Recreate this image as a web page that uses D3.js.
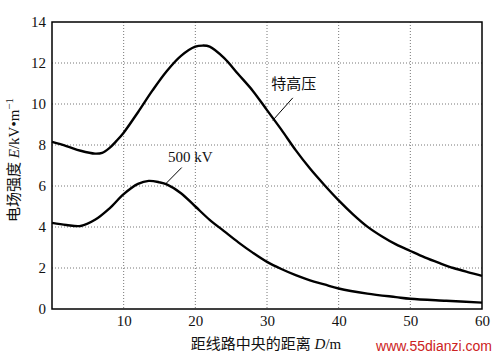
<!DOCTYPE html>
<html>
<head>
<meta charset="utf-8">
<script src="https://cdn.jsdelivr.net/npm/d3@7"></script>
<style>
  body { margin: 0; background: #fff; }
</style>
</head>
<body>
<div class="chart"></div>
<script>
// distance from line centre (m) and field strength (kV/m)
var uhvX = [0, 2, 4, 6, 7, 8, 9, 10, 12, 14, 16, 18, 20, 21, 22, 24, 26, 28, 30, 32, 34, 36, 38, 40, 42, 44, 46, 48, 50, 52, 54, 56, 58, 60];
var uhvE = [8.15, 7.95, 7.72, 7.58, 7.62, 7.85, 8.2, 8.6, 9.6, 10.65, 11.6, 12.35, 12.8, 12.85, 12.8, 12.25, 11.45, 10.65, 9.7, 8.75, 7.75, 6.85, 6.05, 5.3, 4.62, 4.02, 3.55, 3.15, 2.83, 2.52, 2.25, 2.0, 1.8, 1.62];

var kv500X = [0, 2, 4, 6, 8, 10, 12, 13.5, 15, 16, 18, 20, 22, 24, 26, 28, 30, 32, 34, 36, 38, 40, 44, 48, 50, 55, 60];
var kv500E = [4.2, 4.1, 4.05, 4.35, 4.9, 5.6, 6.1, 6.25, 6.18, 6.08, 5.65, 5.0, 4.35, 3.8, 3.25, 2.75, 2.3, 1.95, 1.65, 1.4, 1.2, 1.0, 0.75, 0.58, 0.5, 0.4, 0.31];

var xTicks = [10, 20, 30, 40, 50, 60];
var yTicks = [0, 2, 4, 6, 8, 10, 12, 14];

var serif = '"Liberation Serif", "Noto Sans CJK SC", serif';

var svgWidth = 500;
var svgHeight = 360;
var margin = { top: 22, right: 18, bottom: 51, left: 52 };
var width = svgWidth - margin.left - margin.right;
var height = svgHeight - margin.top - margin.bottom;

var svg = d3.select(".chart")
  .append("svg")
  .attr("width", svgWidth)
  .attr("height", svgHeight)
  .style("font-family", serif);

var chart = svg.append("g")
  .attr("transform", `translate(${margin.left}, ${margin.top})`);

var xScale = d3.scaleLinear().domain([0, 60]).range([0, width]);
var yScale = d3.scaleLinear().domain([0, 14]).range([height, 0]);

// dotted grid
chart.append("g").selectAll("line")
  .data(xTicks.slice(0, -1))
  .enter().append("line")
  .attr("x1", d => xScale(d)).attr("x2", d => xScale(d))
  .attr("y1", 0).attr("y2", height)
  .attr("stroke", "#777").attr("stroke-width", 1)
  .attr("stroke-dasharray", "1,2");

chart.append("g").selectAll("line")
  .data(yTicks.slice(1, -1))
  .enter().append("line")
  .attr("y1", d => yScale(d)).attr("y2", d => yScale(d))
  .attr("x1", 0).attr("x2", width)
  .attr("stroke", "#777").attr("stroke-width", 1)
  .attr("stroke-dasharray", "1,2");

// axes (labels only, no tick marks)
var bottomAxis = d3.axisBottom(xScale).tickValues(xTicks).tickSize(0).tickPadding(6);
var leftAxis = d3.axisLeft(yScale).tickValues(yTicks).tickSize(0).tickPadding(6);

var gx = chart.append("g")
  .attr("transform", `translate(0, ${height})`)
  .call(bottomAxis);
gx.select(".domain").remove();
gx.attr("font-family", null).attr("font-size", null);
gx.selectAll("text").style("font-family", serif).style("font-size", "15px").attr("fill", "#111");

var gy = chart.append("g").call(leftAxis);
gy.select(".domain").remove();
gy.attr("font-family", null).attr("font-size", null);
gy.selectAll("text").style("font-family", serif).style("font-size", "15px").attr("fill", "#111");

// frame
chart.append("rect")
  .attr("x", 0).attr("y", 0)
  .attr("width", width).attr("height", height)
  .attr("fill", "none")
  .attr("stroke", "#000")
  .attr("stroke-width", 1.5);

// curves
var line = d3.line()
  .x(d => xScale(d[0]))
  .y(d => yScale(d[1]))
  .curve(d3.curveCatmullRom.alpha(0.5));

chart.append("path")
  .datum(d3.zip(uhvX, uhvE))
  .attr("d", line)
  .attr("fill", "none")
  .attr("stroke", "#000")
  .attr("stroke-width", 2.4);

chart.append("path")
  .datum(d3.zip(kv500X, kv500E))
  .attr("d", line)
  .attr("fill", "none")
  .attr("stroke", "#000")
  .attr("stroke-width", 2.4);

// annotations, in data units
var noteText = ["特高压", "500 kV"];
var notePos = [[30.6, 10.75], [16.2, 7.15]];
var leaderFrom = [[33.6, 10.3], [18.1, 6.9]];
var leaderTo = [[30.8, 9.2], [15.9, 6.12]];

noteText.forEach(function(t, i) {
  chart.append("text")
    .style("font-family", serif)
    .style("font-size", "15px")
    .attr("fill", "#111")
    .attr("x", xScale(notePos[i][0]))
    .attr("y", yScale(notePos[i][1]))
    .text(t);
  chart.append("line")
    .attr("x1", xScale(leaderFrom[i][0])).attr("y1", yScale(leaderFrom[i][1]))
    .attr("x2", xScale(leaderTo[i][0])).attr("y2", yScale(leaderTo[i][1]))
    .attr("stroke", "#000").attr("stroke-width", 1);
});

// axis titles
var xTitle = chart.append("text")
  .style("font-family", serif)
  .style("font-size", "15px")
  .attr("fill", "#111")
  .attr("x", width / 2 - 1)
  .attr("y", height + 40)
  .attr("text-anchor", "middle");
xTitle.append("tspan").text("距线路中央的距离 ");
xTitle.append("tspan").attr("font-style", "italic").text("D");
xTitle.append("tspan").text("/m");

var yTitle = svg.append("text")
  .style("font-family", serif)
  .style("font-size", "15px")
  .attr("fill", "#111")
  .attr("transform", "translate(19, 160) rotate(-90)")
  .attr("text-anchor", "middle");
yTitle.append("tspan").text("电场强度 ");
yTitle.append("tspan").attr("font-style", "italic").text("E");
yTitle.append("tspan").text("/kV•m");
yTitle.append("tspan").attr("dy", -6).style("font-size", "11px").text("−1");

// watermark
svg.append("text")
  .attr("x", 492)
  .attr("y", 351)
  .attr("text-anchor", "end")
  .style("font-family", '"Liberation Sans", Arial, sans-serif')
  .style("font-size", "14px")
  .attr("fill", "#cc2222")
  .text("www.55dianzi.com");
</script>
</body>
</html>
